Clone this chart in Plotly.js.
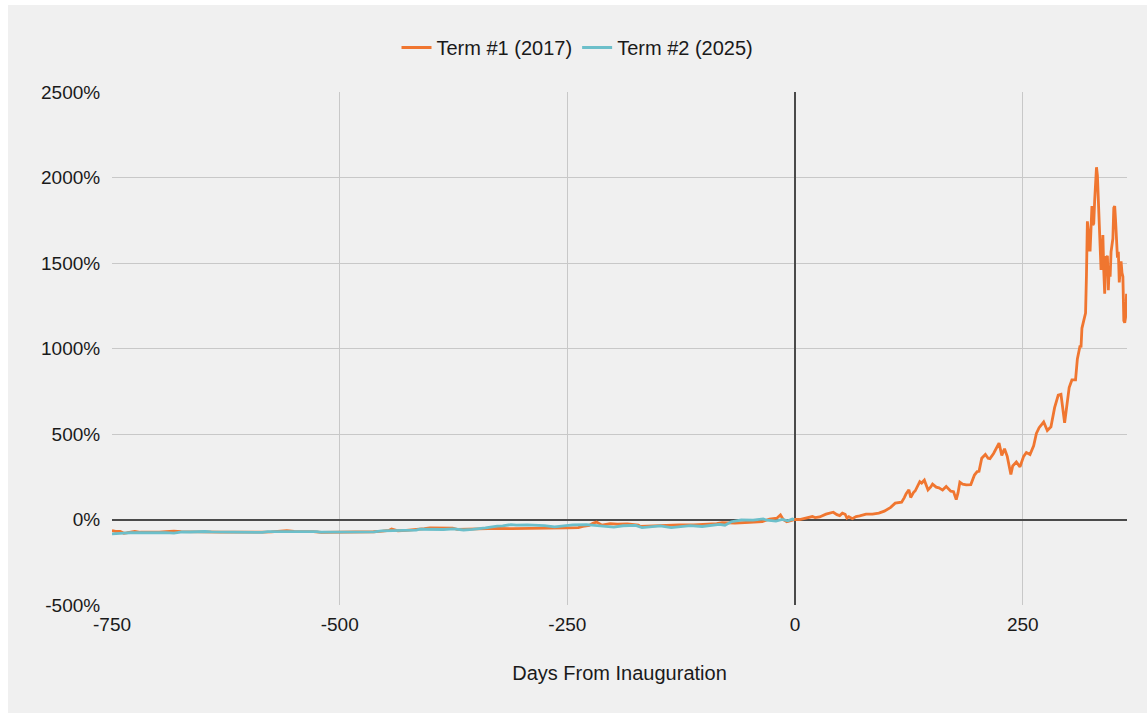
<!DOCTYPE html>
<html>
<head>
<meta charset="utf-8">
<script src="https://cdn.plot.ly/plotly-3.0.1.min.js"></script>
<style>
  html, body { margin: 0; padding: 0; background: #ffffff; }
  #chart { position: absolute; left: 8px; top: 5px; width: 1139px; height: 708px; }
</style>
</head>
<body>
<div id="chart"></div>
<script>
// ---- Data (percent change vs. inauguration-day value) ----
const term1Days = [
  -750,-746,-741,-737,-734,-729,-725,-719,-712,-705,-698,-691,-682,-674,-667,-660,-651,-641,-630,-616,
  -599,-585,-575,-565,-558,-550,-538,-529,-520,-507,-493,-477,-463,-453,-446,-443,-436,-427,-416,-407,
  -401,-392,-385,-376,-371,-361,-354,-340,-325,-311,-294,-280,-264,-250,-238,-233,-226,-222,-218,-212,
  -203,-195,-184,-172,-170,-158,-141,-127,-111,-97,-86,-80,-66,-50,-36,-28,-20,-16,-13,-9,-5,0,
  5,12,19,22,27,34,42,46,49,52,55,57,59,63,67,71,78,85,92,98,101,105,110,114,117,120,122,125,127,130,
  132,137,139,142,144,146,149,151,155,158,162,166,171,174,177,179,181,184,188,193,197,200,202,205,209,
  212,214,218,224,227,230,233,237,239,243,247,251,254,258,262,265,268,273,277,281,285,289,292,296,298,
  301,304,308,310,312,313,314,315,317,319,320,321,322,323,324,325,326,327,328,329,330,331,332,333,334,
  335,336,337,338,339,340,341,342,343,344,345,346,347,348,349,350,351,352,353,354,355,356,357,358,359,
  360,361,362,363,364
];
const term1Pct = [
  -64.9,-69.4,-69.4,-80.1,-77.7,-74.5,-69.3,-74.7,-75.0,-73.9,-73.7,-71.0,-67.5,-71.4,-72.5,-72.4,-73.6,-75.0,-74.1,-73.5,
  -75.1,-73.6,-72.8,-69.7,-65.4,-68.9,-68.6,-70.5,-74.9,-74.5,-74.3,-73.5,-71.6,-68.2,-63.7,-55.0,-65.9,-63.6,-59.6,-53.6,
  -49.2,-49.2,-51.5,-49.9,-58.1,-56.2,-58.4,-55.3,-51.4,-53.6,-53.5,-52.0,-49.7,-49.2,-47.5,-40.2,-35.2,-21.8,-15.1,-33.0,
  -24.6,-27.4,-25.7,-32.4,-39.7,-36.3,-35.8,-31.8,-31.3,-28.5,-24.0,-18.4,-20.7,-16.2,-12.8,2.8,7.8,26.8,0.6,-12.8,-8.4,0,
  0,10.1,17.3,11.2,15.1,31.3,42.5,28.5,22.9,37.4,30.7,8.4,16.2,4.5,16.8,20.7,31.8,31.8,37.4,48.6,58.7,71,95.5,97.8,101,128,151,174,129,157,
  168,221,213,230,202,173,190,207,189,185,172,193,166,163,116,157,218,207,202,204,260,280,282,358,380,
  358,356,386,447,375,414,369,263,313,336,308,369,392,380,431,503,537,570,520,542,654,727,732,565,637,
  772,816,816,939,995,1017,1006,1118,1163,1207,1431,1744,1688,1576,1576,1766,1833,1721,1732,1866,2023,2060,2012,1878,1732,
  1643,1460,1531,1664,1453,1320,1540,1531,1542,1341,1481,1420,1565,1598,1643,1822,1833,1744,1576,1531,1565,1386,1453,1509,1442,
  1420,1163,1151,1185,1320
];

const term2Days = [
  -750,-743,-737,-730,-722,-715,-707,-704,-695,-691,-682,-678,-673,-664,-660,-648,-641,-630,-619,-603,
  -590,-585,-579,-569,-557,-546,-538,-525,-522,-510,-498,-488,-477,-462,-454,-446,-438,-432,-416,-412,
  -402,-386,-375,-364,-354,-346,-340,-327,-321,-312,-306,-294,-282,-275,-264,-250,-244,-229,-210,-199,
  -189,-175,-168,-158,-148,-136,-127,-115,-102,-92,-83,-77,-70,-59,-50,-46,-35,-31,-21,-14,-8,-3,-1
];
const term2Pct = [
  -83.7,-83.2,-79.5,-77.5,-76.7,-77.5,-78.6,-76.2,-77.3,-76.9,-80.2,-75.8,-72.5,-73.2,-72.1,-70.2,-72.4,-72.9,-74.3,-72.5,
  -74.7,-75.4,-70.6,-70.1,-69.2,-71.4,-70.9,-71.2,-73.9,-72.8,-74.7,-73.4,-72.6,-72.1,-66.8,-65.3,-64.0,-62.8,-62.1,-56.9,
  -58.8,-58.5,-54.3,-61.3,-57.7,-53.8,-49.1,-38.8,-37.5,-30.0,-33.4,-31.7,-34.1,-36.4,-42.8,-35.1,-31.3,-30.3,-40.9,-44.4,
  -36.6,-34.5,-47.1,-43.6,-37.1,-47.2,-42.0,-35.5,-40.9,-32.4,-28.7,-33.5,-13.0,-3.0,-4.7,-3.1,4.0,-4.1,-9.1,0.0,-7.4,2.4,-1.0
];

const seriesNames = ['Term #1 (2017)', 'Term #2 (2025)'];
const xTickVals = [-750, -500, -250, 0, 250];
const xTickText = ['-750', '-500', '-250', '0', '250'];
const yTickVals = [-500, 0, 500, 1000, 1500, 2000, 2500];
const yTickText = ['-500%', '0%', '500%', '1000%', '1500%', '2000%', '2500%'];

const FONT = '"Liberation Sans", Arial, Helvetica, sans-serif';

const traces = [
  { x: term1Days, y: term1Pct, name: seriesNames[0], type: 'scatter', mode: 'lines',
    line: { color: '#f07630', width: 2.8 } },
  { x: term2Days, y: term2Pct, name: seriesNames[1], type: 'scatter', mode: 'lines',
    line: { color: '#6cbfca', width: 2.8 } }
];

const layout = {
  width: 1139, height: 708,
  paper_bgcolor: '#f0f0f0',
  plot_bgcolor: '#f0f0f0',
  margin: { l: 104, r: 20, t: 87, b: 108 },
  font: { family: FONT, size: 19, color: '#1a1a1a' },
  showlegend: true,
  legend: {
    orientation: 'h', xref: 'container', yref: 'container',
    x: 0.5, xanchor: 'center', y: 0.94, yanchor: 'middle',
    font: { family: FONT, size: 20, color: '#1a1a1a' },
    itemwidth: 30, bgcolor: 'rgba(0,0,0,0)'
  },
  xaxis: {
    range: [-750, 364.5],
    tickmode: 'array', tickvals: xTickVals, ticktext: xTickText,
    ticks: 'outside', ticklen: 2, tickcolor: 'rgba(0,0,0,0)',
    showgrid: true, gridcolor: '#c8c8c8', gridwidth: 1,
    zeroline: true, zerolinecolor: '#4a4a4a', zerolinewidth: 2,
    showline: false,
    tickfont: { family: FONT, size: 19, color: '#1a1a1a' },
    title: { text: 'Days From Inauguration', standoff: 32,
             font: { family: FONT, size: 20, color: '#1a1a1a' } }
  },
  yaxis: {
    range: [-500, 2500],
    tickmode: 'array', tickvals: yTickVals, ticktext: yTickText,
    ticks: 'outside', ticklen: 7, tickcolor: 'rgba(0,0,0,0)',
    showgrid: true, gridcolor: '#c8c8c8', gridwidth: 1,
    zeroline: true, zerolinecolor: '#4a4a4a', zerolinewidth: 2,
    showline: false,
    tickfont: { family: FONT, size: 19, color: '#1a1a1a' }
  },
  hovermode: false
};

Plotly.newPlot('chart', traces, layout, { displayModeBar: false, staticPlot: true });
</script>
</body>
</html>
